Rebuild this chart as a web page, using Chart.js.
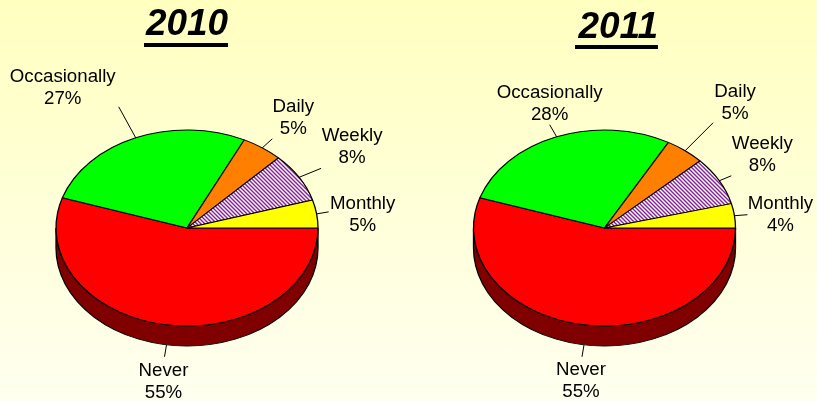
<!DOCTYPE html>
<html>
<head>
<meta charset="utf-8">
<title>Usage 2010 / 2011</title>
<script src="https://cdn.jsdelivr.net/npm/chart.js@4"></script>
<style>
  html, body { margin: 0; padding: 0; }
  #page {
    position: relative;
    width: 817px;
    height: 401px;
    overflow: hidden;
    background: linear-gradient(180deg, #ffffc0, #fffff0);
  }
  canvas { position: absolute; top: 0; }
  #pie2010 { left: -30px; }
  #pie2011 { left: 417px; }
</style>
</head>
<body>
<div id="page">
  <canvas id="pie2010" width="432" height="470"></canvas>
  <canvas id="pie2011" width="400" height="470"></canvas>
</div>
<script>
const categories = ['Never', 'Occasionally', 'Daily', 'Weekly', 'Monthly'];
const values2010 = [55, 27.2, 5.1, 8.1, 4.6];
const values2011 = [55, 28.1, 4.9, 8, 4];

// offsets from the slice's rim point
const leaderEnds2010 = [[-2, 12], [-17, -31], [10, -9], [22, -9], [12, -2]];
const labelSpots2010 = [[-3, 37], [-73, -50], [31, -30], [53, -30], [46, 1]];
const leaderEnds2011 = [[-2, 12], [-7, -12], [28, -28], [12, -5], [13, -1]];
const labelSpots2011 = [[-3, 36], [-7, -33], [50, -48], [43, -26], [46, -1]];

const RADIUS = 131;
const TILT = 98 / 131;
const DEPTH = 20;
const CENTER_Y = 228;
const TEXT_FONT = '18.7px "Liberation Sans", Arial, sans-serif';
const TITLE_FONT = { family: '"Liberation Sans", Arial, sans-serif', size: 37, weight: 'bold', style: 'italic', lineHeight: 1 };

function hatchPattern() {
  const tile = document.createElement('canvas');
  tile.width = 4;
  tile.height = 4;
  const c = tile.getContext('2d');
  for (let y = 0; y < 4; y++) {
    for (let x = 0; x < 4; x++) {
      c.fillStyle = (x - y + 4) % 4 < 2 ? '#8a1f9a' : '#ffffff';
      c.fillRect(x, y, 1, 1);
    }
  }
  const pattern = c.createPattern(tile, 'repeat');
  // undo the squash so the stripes stay on the pixel grid
  pattern.setTransform(new DOMMatrix().scale(1, 1 / TILT));
  return pattern;
}

const sliceColors = ['#ff0000', '#00ff00', '#ff8000', hatchPattern(), '#ffff00'];
const sideColors = ['#800000', '#008000', '#804000', '#400040', '#808000'];

// Chart.js only draws round pies, so squash the datasets and add the rim by hand
function tiltPlugin(leaderEnds, labelSpots, underline) {
  const rimPoint = (arc) => {
    const mid = (arc.startAngle + arc.endAngle) / 2;
    const sin = Math.sin(mid);
    return {
      x: arc.x + arc.outerRadius * Math.cos(mid),
      y: CENTER_Y + arc.outerRadius * TILT * sin + (sin > 0 ? DEPTH : 0),
    };
  };

  return {
    id: 'tiltedPie',
    beforeDatasetsDraw(chart) {
      const ctx = chart.ctx;
      const arcs = chart.getDatasetMeta(0).data;
      ctx.save();
      ctx.translate(0, arcs[0].y);
      ctx.scale(1, TILT);
      ctx.translate(0, -arcs[0].y);

      arcs.forEach((arc, i) => {
        const from = Math.max(arc.startAngle, 0);
        const to = Math.min(arc.endAngle, Math.PI);
        if (from >= to) return;
        ctx.beginPath();
        ctx.arc(arc.x, arc.y, arc.outerRadius, from, to);
        ctx.arc(arc.x, arc.y + DEPTH / TILT, arc.outerRadius, to, from, true);
        ctx.closePath();
        ctx.fillStyle = sideColors[i];
        ctx.fill();
        ctx.strokeStyle = '#000000';
        ctx.lineWidth = 1.3;
        ctx.stroke();
      });
    },
    afterDatasetsDraw(chart) {
      const ctx = chart.ctx;
      ctx.restore();

      const arcs = chart.getDatasetMeta(0).data;
      const values = chart.data.datasets[0].data;
      ctx.save();
      ctx.strokeStyle = '#000000';
      ctx.lineWidth = 1;
      ctx.fillStyle = '#000000';
      ctx.font = TEXT_FONT;
      ctx.textAlign = 'center';
      ctx.textBaseline = 'middle';
      arcs.forEach((arc, i) => {
        const rim = rimPoint(arc);
        ctx.beginPath();
        ctx.moveTo(rim.x, rim.y);
        ctx.lineTo(rim.x + leaderEnds[i][0], rim.y + leaderEnds[i][1]);
        ctx.stroke();
        const lx = rim.x + labelSpots[i][0];
        const ly = rim.y + labelSpots[i][1];
        ctx.fillText(chart.data.labels[i], lx, ly - 11);
        ctx.fillText(Math.round(values[i]) + '%', lx, ly + 11);
      });
      ctx.restore();
    },
    afterDraw(chart) {
      // the title plugin has no underline option
      const ctx = chart.ctx;
      ctx.save();
      ctx.fillStyle = '#000000';
      ctx.fillRect(underline.x, underline.y, underline.width, 4);
      ctx.restore();
    },
  };
}

function drawPie(id, year, values, leaderEnds, labelSpots, layout) {
  new Chart(document.getElementById(id), {
    type: 'pie',
    data: {
      labels: categories,
      datasets: [
        {
          data: values,
          backgroundColor: sliceColors,
          borderColor: '#000000',
          borderWidth: 1.3,
          radius: RADIUS,
          clip: false,
        },
      ],
    },
    options: {
      responsive: false,
      animation: false,
      rotation: 90,
      layout: { padding: layout.padding },
      plugins: {
        legend: { display: false },
        tooltip: { enabled: false },
        title: {
          display: true,
          text: year,
          align: 'end',
          color: '#000000',
          font: TITLE_FONT,
          padding: layout.titlePadding,
        },
      },
    },
    plugins: [tiltPlugin(leaderEnds, labelSpots, layout.underline)],
  });
}

// title is end-aligned, so the right padding sets where the year ends
// and the left padding then puts the pie centre where it belongs
drawPie('pie2010', '2010', values2010, leaderEnds2010, labelSpots2010, {
  padding: { left: 176, right: 174, top: 0, bottom: 64 },
  titlePadding: { top: 6, bottom: 7 },
  underline: { x: 174, y: 43, width: 84 },
});
drawPie('pie2011', '2011', values2011, leaderEnds2011, labelSpots2011, {
  padding: { left: 134, right: 159, top: 0, bottom: 66 },
  titlePadding: { top: 9, bottom: 6 },
  underline: { x: 158, y: 45, width: 83 },
});
</script>
</body>
</html>
